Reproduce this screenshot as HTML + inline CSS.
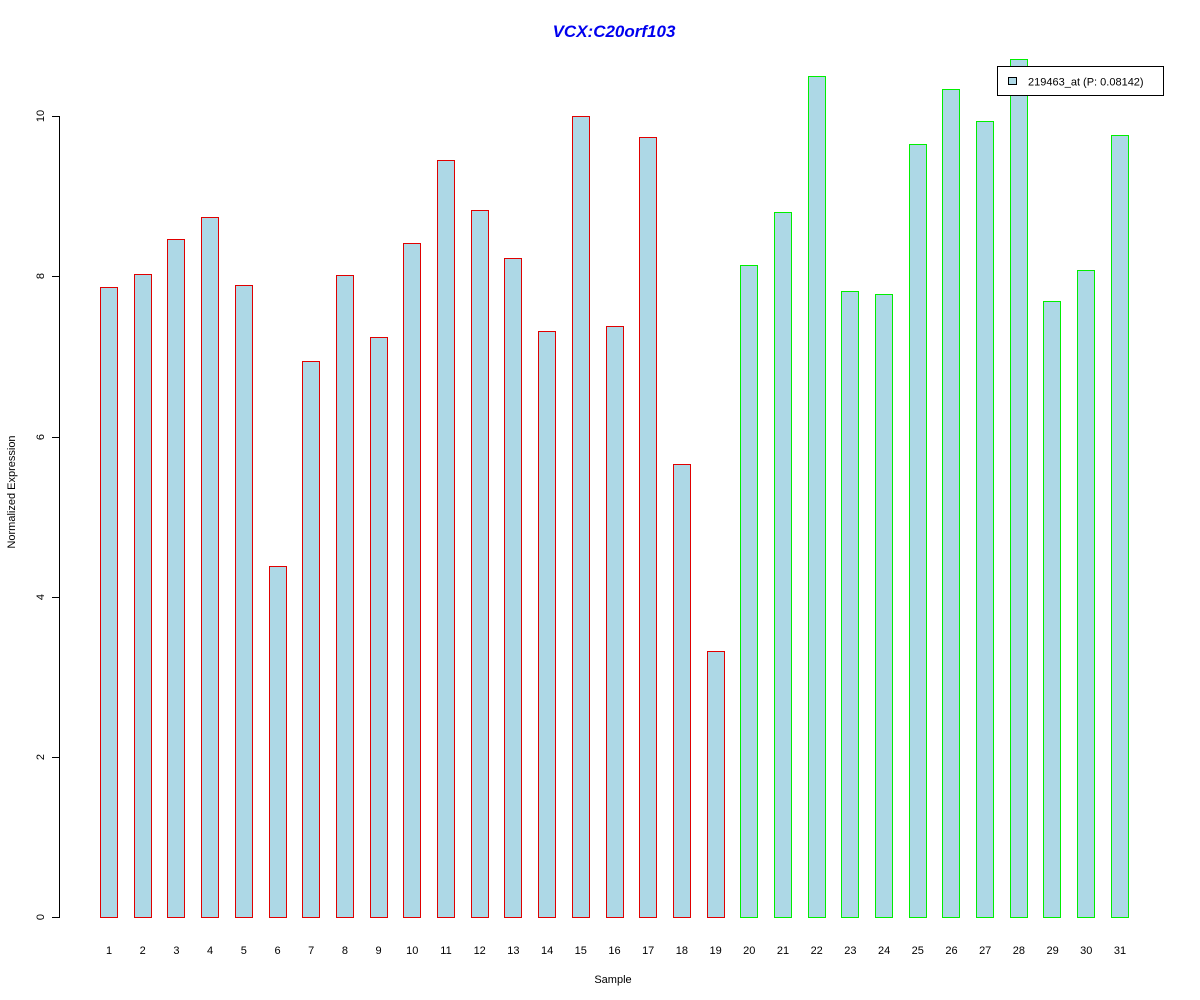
<!DOCTYPE html>
<html><head><meta charset="utf-8"><style>body{margin:0;background:#fff}svg{display:block}</style></head><body>
<svg width="1200" height="1000" xmlns="http://www.w3.org/2000/svg" font-family="Liberation Sans, sans-serif" shape-rendering="crispEdges">
<rect width="1200" height="1000" fill="#fff"/>
<text x="614" y="37" text-anchor="middle" font-size="17" font-weight="bold" font-style="italic" fill="#0000ee">VCX:C20orf103</text>
<g fill="#000">
<rect x="59" y="116" width="1" height="802"/>
<rect x="52" y="917" width="8" height="1"/>
<rect x="52" y="757" width="8" height="1"/>
<rect x="52" y="597" width="8" height="1"/>
<rect x="52" y="437" width="8" height="1"/>
<rect x="52" y="276" width="8" height="1"/>
<rect x="52" y="116" width="8" height="1"/>
</g>
<g font-size="11" fill="#000" text-anchor="middle">
<text transform="translate(44,917) rotate(-90)">0</text>
<text transform="translate(44,757) rotate(-90)">2</text>
<text transform="translate(44,597) rotate(-90)">4</text>
<text transform="translate(44,437) rotate(-90)">6</text>
<text transform="translate(44,276) rotate(-90)">8</text>
<text transform="translate(44,116) rotate(-90)">10</text>
<text transform="translate(15,492) rotate(-90)">Normalized Expression</text>
<text x="613" y="983">Sample</text>
</g>
<g fill="#e00000">
<rect x="100" y="287" width="18" height="631"/>
<rect x="134" y="274" width="18" height="644"/>
<rect x="167" y="239" width="18" height="679"/>
<rect x="201" y="217" width="18" height="701"/>
<rect x="235" y="285" width="18" height="633"/>
<rect x="269" y="566" width="18" height="352"/>
<rect x="302" y="361" width="18" height="557"/>
<rect x="336" y="275" width="18" height="643"/>
<rect x="370" y="337" width="18" height="581"/>
<rect x="403" y="243" width="18" height="675"/>
<rect x="437" y="160" width="18" height="758"/>
<rect x="471" y="210" width="18" height="708"/>
<rect x="504" y="258" width="18" height="660"/>
<rect x="538" y="331" width="18" height="587"/>
<rect x="572" y="116" width="18" height="802"/>
<rect x="606" y="326" width="18" height="592"/>
<rect x="639" y="137" width="18" height="781"/>
<rect x="673" y="464" width="18" height="454"/>
<rect x="707" y="651" width="18" height="267"/>
</g>
<g fill="#00ee00">
<rect x="740" y="265" width="18" height="653"/>
<rect x="774" y="212" width="18" height="706"/>
<rect x="808" y="76" width="18" height="842"/>
<rect x="841" y="291" width="18" height="627"/>
<rect x="875" y="294" width="18" height="624"/>
<rect x="909" y="144" width="18" height="774"/>
<rect x="942" y="89" width="18" height="829"/>
<rect x="976" y="121" width="18" height="797"/>
<rect x="1010" y="59" width="18" height="859"/>
<rect x="1043" y="301" width="18" height="617"/>
<rect x="1077" y="270" width="18" height="648"/>
<rect x="1111" y="135" width="18" height="783"/>
</g>
<g fill="#add8e6">
<rect x="101" y="288" width="16" height="629"/>
<rect x="135" y="275" width="16" height="642"/>
<rect x="168" y="240" width="16" height="677"/>
<rect x="202" y="218" width="16" height="699"/>
<rect x="236" y="286" width="16" height="631"/>
<rect x="270" y="567" width="16" height="350"/>
<rect x="303" y="362" width="16" height="555"/>
<rect x="337" y="276" width="16" height="641"/>
<rect x="371" y="338" width="16" height="579"/>
<rect x="404" y="244" width="16" height="673"/>
<rect x="438" y="161" width="16" height="756"/>
<rect x="472" y="211" width="16" height="706"/>
<rect x="505" y="259" width="16" height="658"/>
<rect x="539" y="332" width="16" height="585"/>
<rect x="573" y="117" width="16" height="800"/>
<rect x="607" y="327" width="16" height="590"/>
<rect x="640" y="138" width="16" height="779"/>
<rect x="674" y="465" width="16" height="452"/>
<rect x="708" y="652" width="16" height="265"/>
<rect x="741" y="266" width="16" height="651"/>
<rect x="775" y="213" width="16" height="704"/>
<rect x="809" y="77" width="16" height="840"/>
<rect x="842" y="292" width="16" height="625"/>
<rect x="876" y="295" width="16" height="622"/>
<rect x="910" y="145" width="16" height="772"/>
<rect x="943" y="90" width="16" height="827"/>
<rect x="977" y="122" width="16" height="795"/>
<rect x="1011" y="60" width="16" height="857"/>
<rect x="1044" y="302" width="16" height="615"/>
<rect x="1078" y="271" width="16" height="646"/>
<rect x="1112" y="136" width="16" height="781"/>
</g>
<g font-size="11" fill="#000" text-anchor="middle">
<text x="109" y="954">1</text><text x="142.7" y="954">2</text><text x="176.4" y="954">3</text><text x="210.1" y="954">4</text><text x="243.8" y="954">5</text><text x="277.5" y="954">6</text><text x="311.2" y="954">7</text><text x="344.9" y="954">8</text><text x="378.6" y="954">9</text><text x="412.3" y="954">10</text><text x="446" y="954">11</text><text x="479.7" y="954">12</text><text x="513.4" y="954">13</text><text x="547.1" y="954">14</text><text x="580.8" y="954">15</text><text x="614.5" y="954">16</text><text x="648.2" y="954">17</text><text x="681.9" y="954">18</text><text x="715.6" y="954">19</text><text x="749.3" y="954">20</text><text x="783" y="954">21</text><text x="816.7" y="954">22</text><text x="850.4" y="954">23</text><text x="884.1" y="954">24</text><text x="917.8" y="954">25</text><text x="951.5" y="954">26</text><text x="985.2" y="954">27</text><text x="1018.9" y="954">28</text><text x="1052.6" y="954">29</text><text x="1086.3" y="954">30</text><text x="1120" y="954">31</text>
</g>
<rect x="997" y="66" width="167" height="30" fill="#000"/>
<rect x="998" y="67" width="165" height="28" fill="#fff"/>
<rect x="1008" y="77" width="9" height="8" fill="#000"/>
<rect x="1009" y="78" width="7" height="6" fill="#add8e6"/>
<text x="1028" y="85.5" font-size="11" fill="#000">219463_at (P: 0.08142)</text>
</svg>
</body></html>
